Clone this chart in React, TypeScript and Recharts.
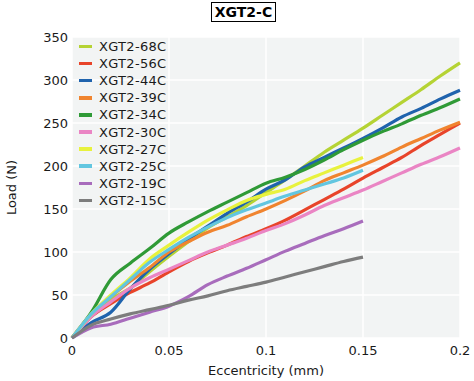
import React from 'react';
import { LineChart, Line, XAxis, YAxis, CartesianGrid, Legend } from 'recharts';

const xs = [0, 0.01, 0.02, 0.03, 0.04, 0.05, 0.06, 0.07, 0.08, 0.09, 0.1, 0.11, 0.12, 0.13, 0.14, 0.15, 0.16, 0.17, 0.18, 0.19, 0.2];

const s68C = [0, 27, 45, 58, 77, 95, 112, 128, 141, 154, 169, 184, 200, 216, 230, 244, 259, 274, 289, 305, 320];
const s56C = [0, 25, 40, 53, 64, 77, 89, 99, 108, 118, 127, 137, 149, 161, 173, 186, 198, 210, 224, 237, 250];
const s44C = [0, 18, 30, 57, 80, 98, 115, 130, 145, 158, 173, 184, 199, 210, 221, 232, 244, 257, 267, 278, 288];
const s39C = [0, 28, 48, 66, 82, 100, 112, 123, 131, 141, 150, 160, 171, 183, 192, 201, 211, 222, 232, 242, 251];
const s34C = [0, 30, 68, 87, 104, 122, 135, 147, 158, 169, 180, 187, 196, 207, 219, 230, 240, 249, 259, 268, 278];
const s30C = [0, 25, 42, 58, 70, 80, 90, 100, 108, 116, 125, 133, 143, 154, 163, 172, 182, 192, 202, 211, 221];
const s27C = [0, 28, 50, 70, 92, 108, 123, 137, 149, 160, 167, 173, 183, 192, 201, 210];
const s25C = [0, 28, 48, 68, 88, 103, 117, 129, 140, 149, 157, 165, 172, 179, 186, 195];
const s19C = [0, 12, 16, 23, 30, 37, 48, 62, 72, 81, 91, 101, 110, 119, 127, 136];
const s15C = [0, 15, 22, 28, 33, 38, 44, 49, 55, 60, 65, 71, 77, 83, 89, 94];

const seriesNames = ['XGT2-68C', 'XGT2-56C', 'XGT2-44C', 'XGT2-39C', 'XGT2-34C', 'XGT2-30C', 'XGT2-27C', 'XGT2-25C', 'XGT2-19C', 'XGT2-15C'];
const seriesValues = [s68C, s56C, s44C, s39C, s34C, s30C, s27C, s25C, s19C, s15C];
const seriesColors = ['#b5d334', '#e8442a', '#1f63ad', '#f0842f', '#2f9a36', '#ea85c4', '#e8f23d', '#62c6e0', '#a86cbc', '#7d7d7d'];

const xTicks = [0, 0.05, 0.1, 0.15, 0.2];
const yTicks = [0, 50, 100, 150, 200, 250, 300, 350];

const data = xs.map((x, i) => {
  const row: Record<string, number> = { x };
  seriesValues.forEach((vals, k) => {
    if (i < vals.length) row['s' + k] = vals[i];
  });
  return row;
});

const FONT = '"DejaVu Sans", sans-serif';

const LegendContent = () => (
  <div style={{ fontFamily: FONT, fontSize: 13, color: '#1a1a1a', letterSpacing: 0.3 }}>
    {seriesNames.map((name, k) => (
      <div key={name} style={{ display: 'flex', alignItems: 'center', height: 17.1 }}>
        <div style={{ width: 13, height: 3.5, background: seriesColors[k], marginRight: 7 }} />
        <span style={{ lineHeight: '17px' }}>{name}</span>
      </div>
    ))}
  </div>
);

export default function App() {
  return (
    <div style={{ position: 'absolute', left: 0, top: 0, width: 474, height: 381, background: '#fff' }}>
      <div
        style={{
          position: 'absolute',
          left: 211,
          top: 2,
          width: 63,
          height: 18,
          border: '1px solid #000',
          fontFamily: FONT,
          fontWeight: 'bold',
          fontSize: 14,
          lineHeight: '18px',
          textAlign: 'center',
          color: '#000',
        }}
      >
        XGT2-C
      </div>
      <LineChart width={474} height={381} data={data} margin={{ top: 37, right: 14, bottom: 0, left: 0 }}>
        <CartesianGrid fill="#f2f4f4" stroke="#ffffff" strokeWidth={1.5} />
        <XAxis
          dataKey="x"
          type="number"
          domain={[0, 0.2]}
          ticks={xTicks}
          tickFormatter={(v: number) => String(v)}
          axisLine={false}
          tickLine={false}
          tickSize={2}
          tickMargin={6}
          height={43}
          tick={{ fill: '#1a1a1a', fontSize: 13, fontFamily: FONT }}
          label={{ value: 'Eccentricity (mm)', position: 'insideBottom', offset: 6, fill: '#1a1a1a', fontSize: 13, fontFamily: FONT }}
        />
        <YAxis
          type="number"
          domain={[0, 350]}
          ticks={yTicks}
          axisLine={false}
          tickLine={false}
          tickSize={2}
          tickMargin={2}
          width={72}
          tick={{ fill: '#1a1a1a', fontSize: 13, fontFamily: FONT }}
          label={{ value: 'Load (N)', angle: -90, position: 'center', dx: -25, dy: 0, fill: '#1a1a1a', fontSize: 13, fontFamily: FONT }}
        />
        <Legend
          layout="vertical"
          verticalAlign="middle"
          align="center"
          content={<LegendContent />}
          wrapperStyle={{ left: 79, top: 38, width: 'auto' }}
        />
        {seriesNames.map((name, k) => (
          <Line
            key={name}
            name={name}
            dataKey={'s' + k}
            type="monotone"
            stroke={seriesColors[k]}
            strokeWidth={3.2}
            dot={false}
            isAnimationActive={false}
          />
        ))}
      </LineChart>
    </div>
  );
}
